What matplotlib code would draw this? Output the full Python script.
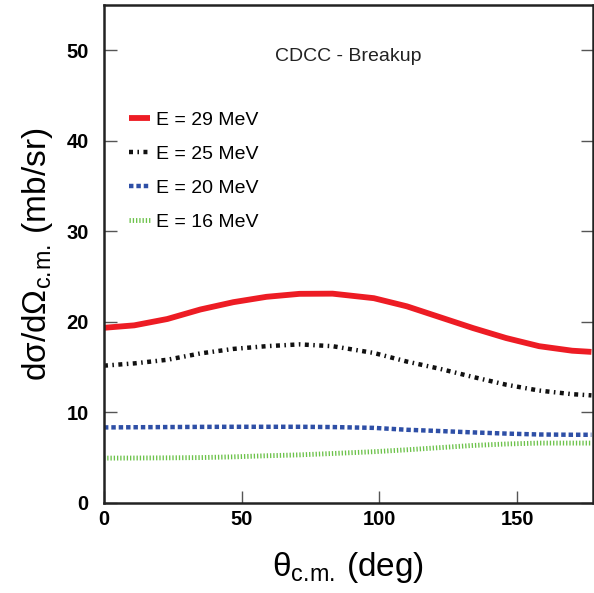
import matplotlib
matplotlib.use("Agg")
import matplotlib.pyplot as plt

plt.rcParams["font.family"] = ["Liberation Sans", "DejaVu Sans"]
plt.rcParams["mathtext.fontset"] = "custom"
plt.rcParams["mathtext.rm"] = "Liberation Sans"
plt.rcParams["mathtext.it"] = "Liberation Sans"

# angles (deg)
theta = [0, 11, 23, 35, 47, 59, 71, 83, 98, 110, 122, 134, 146, 158, 170, 177]
# cross sections (mb/sr) per beam energy
e29 = [19.33, 19.6, 20.3, 21.35, 22.16, 22.75, 23.08, 23.1, 22.6, 21.7, 20.5, 19.3, 18.2, 17.3, 16.8, 16.67]
e25 = [15.15, 15.4, 15.8, 16.5, 17.0, 17.3, 17.5, 17.3, 16.55, 15.6, 14.8, 13.9, 13.05, 12.4, 12.0, 11.87]
e20 = [8.33, 8.35, 8.37, 8.39, 8.4, 8.4, 8.4, 8.37, 8.28, 8.07, 7.93, 7.78, 7.65, 7.55, 7.52, 7.52]
e16 = [4.94, 4.95, 4.97, 5.0, 5.08, 5.2, 5.3, 5.45, 5.65, 5.86, 6.1, 6.34, 6.5, 6.6, 6.6, 6.6]

fig = plt.figure(figsize=(5.94, 5.93), dpi=100)
ax = fig.add_axes([0.175, 0.152, 0.823, 0.84])

ax.plot(theta, e29, color="#ed1c24", lw=4.2, solid_capstyle="butt", label="E = 29 MeV")
ax.plot(theta, e25, color="#111111", lw=3.2, ls=(0, (0.9, 1.0, 0.35, 1.0)), label="E = 25 MeV")
ax.plot(theta, e20, color="#2e4fa6", lw=3.2, ls=(0, (1.0, 0.66)), label="E = 20 MeV")
ax.plot(theta, e16, color="#6cc24a", lw=3.5, ls=(0, (0.27, 0.4)), label="E = 16 MeV")

ax.set_xlim(0, 177.5)
ax.set_ylim(0, 55)
ax.set_xticks([0, 50, 100, 150])
ax.set_yticks([0, 10, 20, 30, 40, 50])
ax.tick_params(direction="in", length=9, width=1, color="#555555",
               right=True, top=False, labelsize=14.5)
ax.tick_params(axis="y", pad=11)
ax.tick_params(axis="x", pad=5)
for lab in ax.get_xticklabels() + ax.get_yticklabels():
    lab.set_fontweight("bold")
for s in ax.spines.values():
    s.set_linewidth(1.8)
    s.set_color("#222222")

ax.set_xlabel(r"$\theta_{\mathrm{c.\!m.\!}}$ (deg)", fontsize=24, labelpad=15)
ax.set_ylabel(r"d$\sigma$/d$\Omega_{\mathrm{c.\!m.\!}}$ (mb/sr)", fontsize=24, labelpad=8)

ax.text(0.50, 0.896, "CDCC - Breakup", transform=ax.transAxes, fontsize=14,
        ha="center", va="center", color="#222222")

ax.legend(loc="upper left", bbox_to_anchor=(0.015, 0.822), frameon=False,
          fontsize=14, handlelength=1.1, handletextpad=0.28, labelspacing=0.85)

fig.savefig("out.png", dpi=100)
